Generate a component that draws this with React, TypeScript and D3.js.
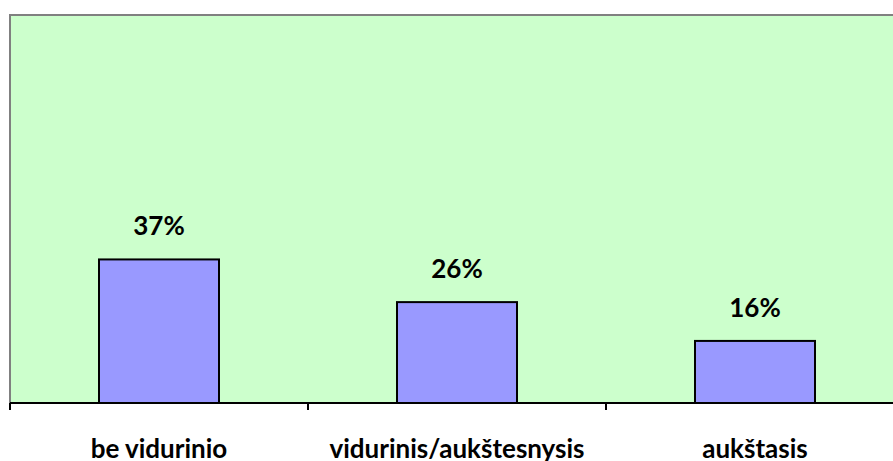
import React, { useEffect, useRef } from 'react'
import * as d3 from 'd3'

const categories = ['be vidurinio', 'vidurinis/aukštesnysis', 'aukštasis']
const values = [37, 26, 16]
const valueLabels = ['37%', '26%', '16%']

export default function App() {
  const ref = useRef<SVGSVGElement>(null)

  useEffect(() => {
    const el = ref.current
    if (!el) return
    const svg = d3.select(el)
    svg.selectAll('*').remove()

    const left = 10, top = 15, bottom = 403, right = 904
    const font = 'Lato, "Open Sans", sans-serif'
    const x = d3.scaleBand().domain(categories).range([left, right]).paddingInner(0).paddingOuter(0)
    const y = d3.scaleLinear().domain([0, 100]).range([bottom, top])
    const bw = 120

    // plot area
    svg.append('rect').attr('x', left).attr('y', top).attr('width', right - left).attr('height', bottom - top)
      .attr('fill', '#CCFFCC').attr('stroke', '#808080').attr('stroke-width', 2)

    const g = svg.append('g')
    g.selectAll('rect.bar').data(values).join('rect').attr('class', 'bar')
      .attr('x', (d, i) => x(categories[i])! + x.bandwidth() / 2 - bw / 2)
      .attr('y', d => y(d))
      .attr('width', bw)
      .attr('height', d => bottom - y(d))
      .attr('fill', '#9999FF').attr('stroke', '#000').attr('stroke-width', 2)

    g.selectAll('text.val').data(values).join('text').attr('class', 'val')
      .attr('x', (d, i) => x(categories[i])! + x.bandwidth() / 2)
      .attr('y', d => y(d) - 24)
      .attr('text-anchor', 'middle')
      .attr('font-family', font).attr('font-weight', 'bold').attr('font-size', 26)
      .attr('fill', '#000')
      .text((d, i) => valueLabels[i])

    // x axis
    const ax = d3.axisBottom(x).tickSize(0).tickPadding(0)
    const axG = svg.append('g').attr('transform', `translate(0,${bottom})`).call(ax)
    axG.select('.domain').remove()
    axG.selectAll('text').attr('font-family', font).attr('font-weight', 'bold')
      .attr('font-size', 26).attr('fill', '#000').attr('dy', null).attr('y', 55)
    svg.append('line').attr('x1', left).attr('x2', right).attr('y1', bottom).attr('y2', bottom)
      .attr('stroke', '#000').attr('stroke-width', 2)
    const edges = categories.map(c => x(c)!).concat([right])
    svg.selectAll('line.tick').data(edges).join('line').attr('class', 'tick')
      .attr('x1', d => d).attr('x2', d => d).attr('y1', bottom).attr('y2', bottom + 7)
      .attr('stroke', '#000').attr('stroke-width', 2)
  }, [])

  return (
    <svg ref={ref} width={893} height={461}
      style={{ position: 'absolute', left: 0, top: 0, background: '#fff' }} />
  )
}
